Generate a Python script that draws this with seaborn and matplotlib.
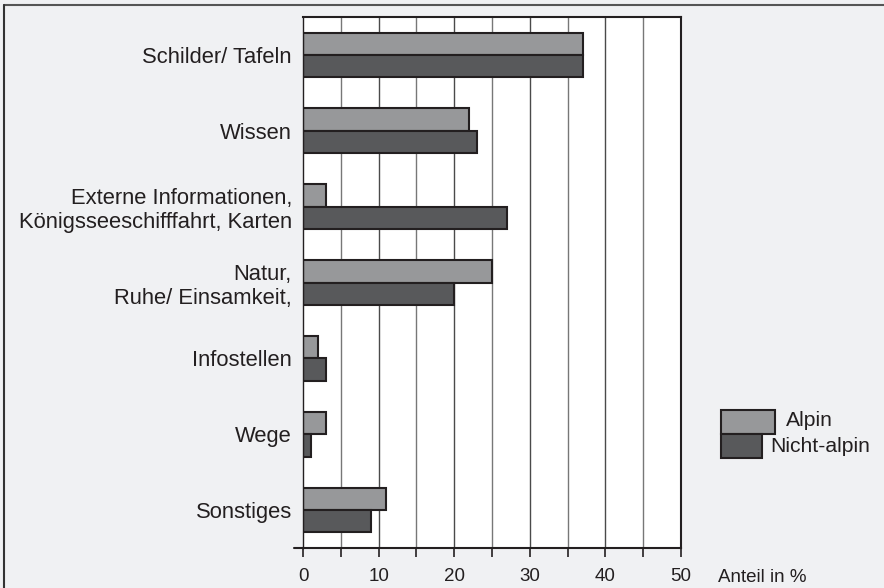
import pandas as pd
import seaborn as sns
import matplotlib.pyplot as plt
from matplotlib.patches import Rectangle
from matplotlib.lines import Line2D

categories = ["Schilder/ Tafeln", "Wissen",
              "Externe Informationen,\nKönigsseeschifffahrt, Karten",
              "Natur,\nRuhe/ Einsamkeit,", "Infostellen", "Wege", "Sonstiges"]
alpin = [37, 22, 3, 25, 2, 3, 11]
nicht_alpin = [37, 23, 27, 20, 3, 1, 9]
groups = ["Alpin", "Nicht-alpin"]
xticks = [0, 10, 20, 30, 40, 50]

df = pd.DataFrame({
    "Kategorie": categories * 2,
    "Anteil": alpin + nicht_alpin,
    "Gruppe": [groups[0]] * len(categories) + [groups[1]] * len(categories),
})

sns.set_style("white")
plt.rcParams["font.family"] = ["Liberation Sans", "DejaVu Sans"]

bg = "#f0f1f3"
edge = "#231f20"
colors = {"Alpin": "#97989a", "Nicht-alpin": "#58595b"}

fig = plt.figure(figsize=(8.84, 5.88), dpi=100, facecolor=bg)
ax = fig.add_axes([0.3428, 0.068, 0.4276, 0.903])
ax.set_facecolor("white")

# gridlines behind bars
for v in range(5, 50, 5):
    ax.axvline(v, color="#4a4a4a" if v % 10 == 0 else "#777777",
               lw=1.0, zorder=0)

sns.barplot(data=df, y="Kategorie", x="Anteil", hue="Gruppe", orient="h",
            palette=colors, width=0.59, edgecolor=edge, linewidth=1.5,
            legend=False, ax=ax, zorder=2)

ax.set_xlim(0, 50)
ax.set_ylim(len(categories) - 0.5, -0.5)
ax.set_xticks(xticks)
ax.set_xticks(range(5, 50, 10), minor=True)
ax.tick_params(axis="x", which="both", direction="out", length=6.5, width=1.2,
               color=edge, labelsize=13.5, labelcolor="#231f20", pad=8,
               bottom=True)
ax.tick_params(axis="y", length=0, labelsize=15.8, labelcolor="#231f20", pad=8)
for lbl in ax.get_yticklabels():
    lbl.set_horizontalalignment("right")
    lbl.set_multialignment("right")
ax.set_xlabel("")
ax.set_ylabel("")
for s in ax.spines.values():
    s.set_visible(True)
    s.set_color(edge)
    s.set_linewidth(1.5)
ax.spines["left"].set_linewidth(1.0)
# small left extension of the x axis
ax.plot([-0.025, 0], [0, 0], transform=ax.transAxes, color=edge, lw=1.5,
        clip_on=False)

ax.text(1.098, -0.056, "Anteil in %", transform=ax.transAxes, fontsize=13.5,
        color="#231f20", ha="left", va="center")

# legend
fig.patches.append(Rectangle((721 / 884, 1 - 434 / 588), 54 / 884, 24 / 588,
                             transform=fig.transFigure, facecolor=colors["Alpin"],
                             edgecolor=edge, lw=1.5))
fig.patches.append(Rectangle((721 / 884, 1 - 458 / 588), 41 / 884, 24 / 588,
                             transform=fig.transFigure,
                             facecolor=colors["Nicht-alpin"], edgecolor=edge, lw=1.5))
fig.text(786 / 884, 1 - 421 / 588, "Alpin", fontsize=15.2, color="#231f20",
         va="center")
fig.text(770 / 884, 1 - 446 / 588, "Nicht-alpin", fontsize=15.2,
         color="#231f20", va="center")

# outer border lines
fig.lines.append(Line2D([0.004, 1], [1 - 5 / 588, 1 - 5 / 588],
                        transform=fig.transFigure, color="#555555", lw=1.5))
fig.lines.append(Line2D([0.004, 0.004], [0, 1 - 5 / 588],
                        transform=fig.transFigure, color="#333333", lw=1.5))

fig.savefig("out.png", dpi=100, facecolor=bg)
